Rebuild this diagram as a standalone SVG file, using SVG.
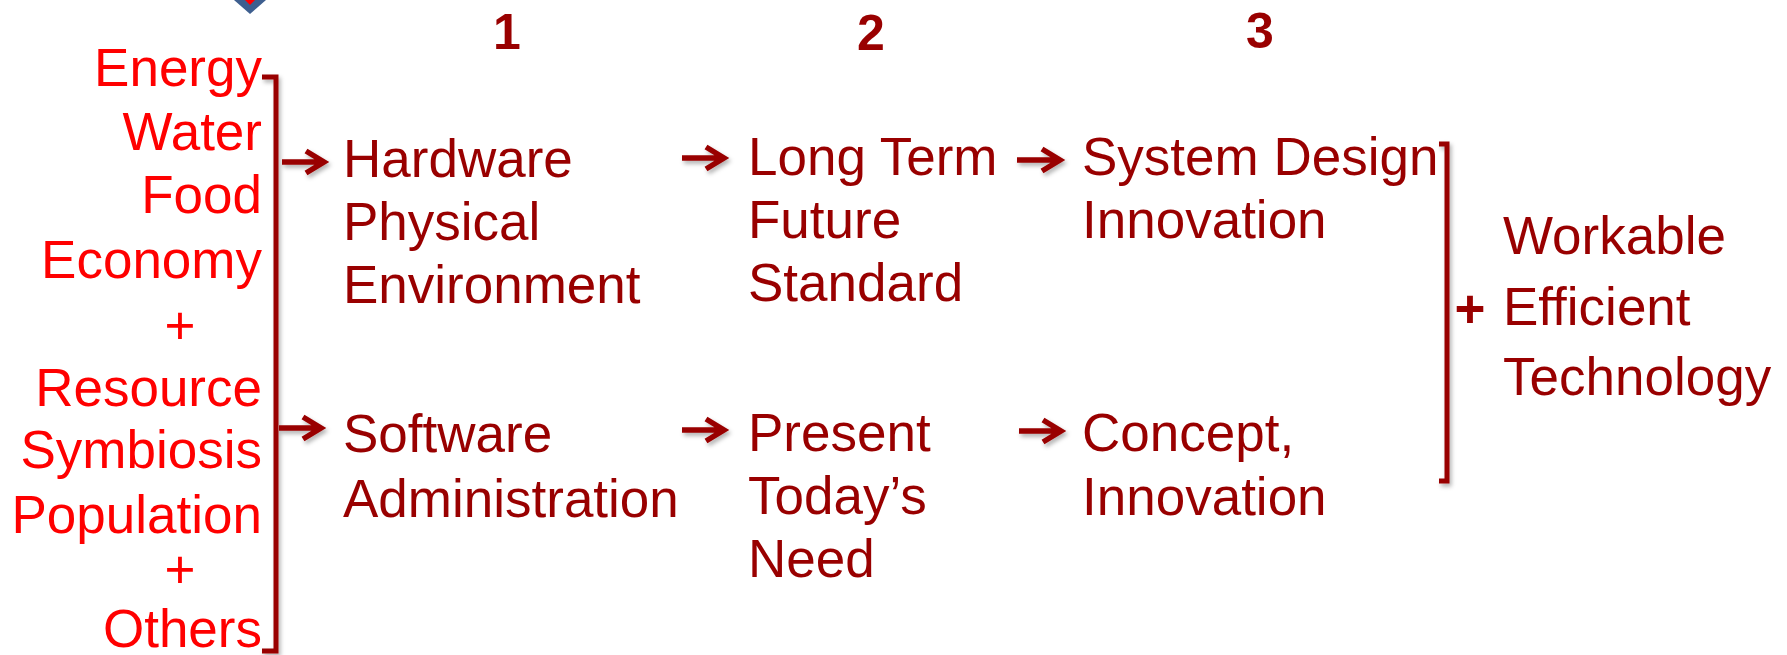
<svg xmlns="http://www.w3.org/2000/svg" width="1787" height="655" viewBox="0 0 1787 655">
<style>
text{font-family:"Liberation Sans",Arial,sans-serif;font-size:53px;}
.red{fill:#ff0000;}
.dk{fill:#990000;}
.num{fill:#990000;font-weight:bold;font-size:50px;text-anchor:middle;}
.ln{fill:none;stroke:#990000;stroke-width:5;}
.arr{fill:none;stroke:#990000;stroke-width:5.5;stroke-linejoin:miter;}
</style>
<defs>
<filter id="sh" x="-20%" y="-50%" width="150%" height="220%">
<feDropShadow dx="2" dy="3" stdDeviation="2" flood-color="#000" flood-opacity="0.3"/>
</filter>
</defs>
<rect width="1787" height="655" fill="#ffffff"/>
<g id="logo">
<polygon points="234,0 266,0 250,14" fill="#3e5f8f"/>
<polygon points="245,0 255,0 250,5" fill="#ff0000"/>
</g>
<g id="headers">
<text class="num" x="507" y="49">1</text>
<text class="num" x="871" y="50">2</text>
<text class="num" x="1260" y="48">3</text>
</g>
<g id="inputs" class="red" text-anchor="end">
<text x="262" y="86">Energy</text>
<text x="262" y="150">Water</text>
<text x="262" y="213">Food</text>
<text x="262" y="278">Economy</text>
<text x="180" y="344" text-anchor="middle">+</text>
<text x="262" y="406">Resource</text>
<text x="262" y="468">Symbiosis</text>
<text x="262" y="533">Population</text>
<text x="180" y="588" text-anchor="middle">+</text>
<text x="262" y="647">Others</text>
</g>
<g id="hardware" class="dk">
<text x="343" y="177">Hardware</text>
<text x="343" y="240">Physical</text>
<text x="343" y="303">Environment</text>
</g>
<g id="software" class="dk">
<text x="343" y="452">Software</text>
<text x="343" y="517">Administration</text>
</g>
<g id="longterm" class="dk">
<text x="748" y="175">Long Term</text>
<text x="748" y="238">Future</text>
<text x="748" y="301">Standard</text>
</g>
<g id="present" class="dk">
<text x="748" y="451">Present</text>
<text x="748" y="514">Today’s</text>
<text x="748" y="577">Need</text>
</g>
<g id="systemdesign" class="dk">
<text x="1082" y="175">System Design</text>
<text x="1082" y="238">Innovation</text>
</g>
<g id="concept" class="dk">
<text x="1082" y="451">Concept,</text>
<text x="1082" y="515">Innovation</text>
</g>
<g id="result" class="dk">
<text x="1470" y="327" text-anchor="middle" font-weight="bold" font-size="50">+</text>
<text x="1503" y="254">Workable</text>
<text x="1503" y="325">Efficient</text>
<text x="1503" y="395">Technology</text>
</g>
<g id="connectors" filter="url(#sh)">
<path class="ln" d="M262,77 L276,77 L276,651 L262,651"/>
<path class="ln" d="M1439,144 L1447,144 L1447,481 L1439,481"/>
<path class="arr" d="M282,162 H324 M306,151 L324,162 L306,173"/>
<path class="arr" d="M279,428 H321 M303,417 L321,428 L303,439"/>
<path class="arr" d="M682,158 H724 M706,147 L724,158 L706,169"/>
<path class="arr" d="M1017,160 H1060 M1042,149 L1060,160 L1042,171"/>
<path class="arr" d="M682,430 H724 M706,419 L724,430 L706,441"/>
<path class="arr" d="M1019,431 H1061 M1043,420 L1061,431 L1043,442"/>
</g>
</svg>
